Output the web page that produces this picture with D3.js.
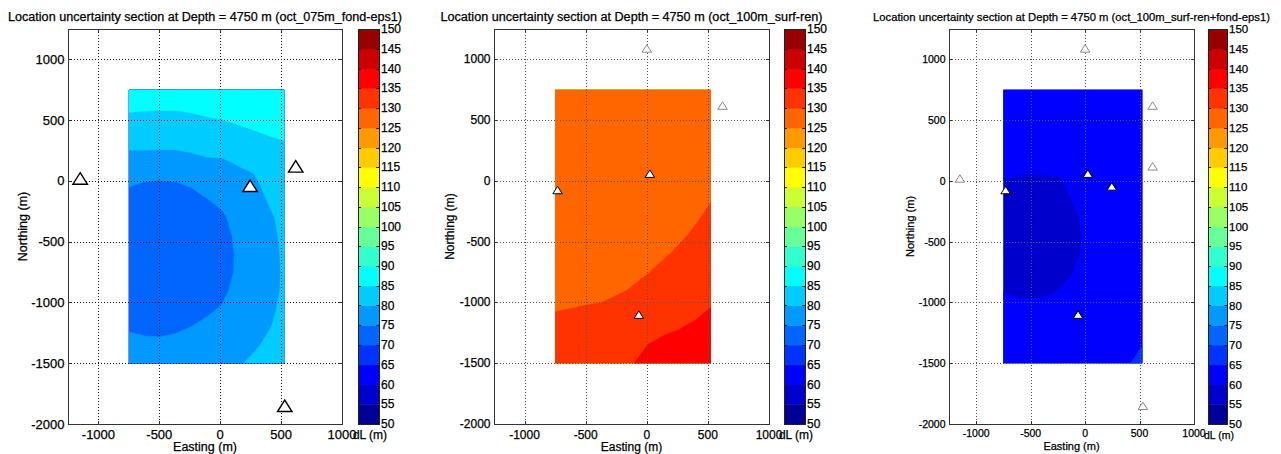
<!DOCTYPE html>
<html>
<head>
<meta charset="utf-8">
<script src="https://cdn.jsdelivr.net/npm/d3@7"></script>
<style>
  body { margin: 0; background: #fff; }
  svg { display: block; font-family: "Liberation Sans", Arial, sans-serif; }
  svg text { fill: #000; stroke: #000; stroke-width: 0.25px; }
</style>
</head>
<body>
<svg id="chart" width="1281" height="454"></svg>
<script>
// ---------------- data ----------------
const titles = [
  "Location uncertainty section at Depth = 4750 m (oct_075m_fond-eps1)",
  "Location uncertainty section at Depth = 4750 m (oct_100m_surf-ren)",
  "Location uncertainty section at Depth = 4750 m (oct_100m_surf-ren+fond-eps1)"
];
const xLabel = "Easting (m)";
const yLabel = "Northing (m)";
const cbLabel = "dL (m)";

const xDomain = [-1250, 1000];
const yDomain = [-2000, 1250];
const xTicks = [-1000, -500, 0, 500, 1000];
const yTicks = [-2000, -1500, -1000, -500, 0, 500, 1000];
const levels = d3.range(50, 151, 5);          // contour levels / colorbar ticks

// grid of the section: 11 columns (Easting -750 .. 525), 16 rows (Northing 750 .. -1500)
const gridEast = [-750, 525];
const gridNorth = [750, -1500];

// dL (m), rows from north to south, columns from west to east
const dlFondEps1 = [
  [87.5, 87.8, 88.0, 88.0, 88.0, 88.0, 88.2, 88.5, 88.8, 89.0, 89.3],
  [85.6, 85.4, 85.3, 85.3, 85.6, 86.2, 86.6, 87.0, 87.3, 87.6, 88.0],
  [83.2, 83.0, 83.1, 83.0, 83.3, 83.7, 84.1, 84.8, 85.5, 86.1, 86.6],
  [80.8, 80.7, 80.7, 80.7, 81.1, 81.5, 81.8, 82.3, 83.0, 84.0, 84.6],
  [78.3, 78.5, 78.3, 78.3, 78.7, 79.3, 79.4, 80.3, 80.8, 82.6, 83.2],
  [75.5, 75.1, 74.9, 75.1, 75.8, 77.0, 77.6, 78.6, 79.4, 81.3, 82.2],
  [74.0, 73.2, 72.8, 72.9, 73.6, 74.9, 75.8, 77.2, 78.3, 80.3, 81.5],
  [73.0, 72.2, 71.7, 71.7, 72.2, 73.3, 74.5, 76.3, 77.6, 79.4, 81.0],
  [72.3, 71.6, 71.1, 71.0, 71.4, 72.4, 73.6, 75.8, 77.2, 79.0, 80.7],
  [72.0, 71.3, 70.8, 70.7, 71.1, 72.0, 73.2, 75.5, 77.0, 78.8, 80.5],
  [72.0, 71.3, 70.8, 70.7, 71.2, 72.1, 73.3, 75.6, 77.0, 78.8, 80.4],
  [72.5, 71.8, 71.3, 71.3, 71.9, 72.9, 74.1, 76.2, 77.3, 79.0, 80.4],
  [73.3, 72.8, 72.5, 72.6, 73.3, 74.3, 75.3, 77.0, 77.8, 79.4, 80.6],
  [74.6, 74.2, 74.1, 74.4, 75.0, 75.8, 76.8, 78.0, 78.6, 79.8, 81.0],
  [76.0, 75.8, 75.7, 76.0, 76.5, 77.2, 78.0, 78.9, 79.5, 80.6, 81.8],
  [77.0, 77.0, 77.0, 77.2, 77.6, 78.2, 78.9, 79.6, 80.6, 81.8, 83.0]
];

const dlSurfRen = [
  [126.0, 126.0, 126.1, 126.1, 126.2, 126.3, 126.4, 126.6, 126.8, 127.0, 127.3],
  [126.2, 126.2, 126.3, 126.3, 126.4, 126.5, 126.6, 126.8, 127.0, 127.2, 127.6],
  [126.4, 126.4, 126.5, 126.5, 126.6, 126.7, 126.8, 127.0, 127.2, 127.5, 128.0],
  [126.6, 126.6, 126.7, 126.7, 126.8, 126.9, 127.0, 127.2, 127.5, 127.8, 128.5],
  [126.8, 126.8, 126.9, 126.9, 127.0, 127.2, 127.3, 127.5, 127.9, 128.2, 129.0],
  [127.0, 127.0, 127.1, 127.1, 127.3, 127.5, 127.6, 127.9, 128.3, 128.7, 129.4],
  [127.3, 127.3, 127.4, 127.4, 127.6, 127.8, 128.0, 128.3, 128.8, 129.2, 129.9],
  [127.6, 127.6, 127.7, 127.8, 128.0, 128.2, 128.4, 128.8, 129.3, 129.75, 130.5],
  [127.9, 128.0, 128.1, 128.2, 128.4, 128.7, 128.9, 129.3, 129.7, 130.35, 131.2],
  [128.3, 128.4, 128.5, 128.7, 128.8, 129.2, 129.4, 129.75, 130.4, 131.1, 132.0],
  [128.8, 128.9, 129.0, 129.2, 129.3, 129.6, 129.95, 130.7, 131.4, 131.9, 132.8],
  [129.3, 129.4, 129.6, 129.6, 129.75, 130.15, 130.9, 131.7, 132.3, 132.8, 133.8],
  [129.85, 130.0, 130.1, 130.2, 130.8, 131.3, 132.0, 132.9, 133.4, 134.0, 135.1],
  [130.7, 130.8, 131.0, 131.2, 131.9, 132.5, 133.4, 134.3, 134.8, 135.6, 136.3],
  [131.6, 131.7, 132.0, 132.3, 133.1, 133.7, 135.1, 135.8, 136.3, 136.9, 137.5],
  [132.5, 132.7, 133.0, 133.5, 134.3, 134.9, 136.4, 137.2, 137.8, 138.2, 138.7]
];

const dlSurfRenFondEps1 = [
  [62.5, 62.5, 62.5, 62.5, 62.5, 62.5, 62.6, 62.7, 62.8, 62.9, 63.0],
  [62.2, 62.2, 62.2, 62.2, 62.2, 62.2, 62.3, 62.4, 62.5, 62.7, 62.8],
  [61.8, 61.8, 61.8, 61.8, 61.8, 61.8, 61.9, 62.1, 62.3, 62.5, 62.6],
  [61.3, 61.3, 61.3, 61.3, 61.3, 61.4, 61.6, 61.8, 62.1, 62.3, 62.5],
  [60.7, 60.7, 60.7, 60.7, 60.7, 61.0, 61.3, 61.6, 61.9, 62.2, 62.4],
  [60.0, 59.7, 59.6, 59.7, 59.8, 60.5, 61.0, 61.4, 61.8, 62.1, 62.4],
  [59.4, 59.2, 59.0, 59.0, 59.2, 60.1, 60.7, 61.2, 61.7, 62.1, 62.4],
  [59.0, 58.7, 58.5, 58.5, 58.8, 59.6, 60.5, 61.1, 61.6, 62.1, 62.5],
  [58.8, 58.5, 58.3, 58.3, 58.6, 59.4, 60.4, 61.0, 61.6, 62.1, 62.6],
  [58.8, 58.5, 58.3, 58.3, 58.7, 59.5, 60.5, 61.1, 61.7, 62.2, 62.7],
  [59.1, 58.8, 58.6, 58.6, 59.1, 59.95, 60.8, 61.3, 61.9, 62.4, 62.9],
  [59.95, 59.6, 59.5, 59.6, 60.05, 60.6, 61.2, 61.6, 62.1, 62.7, 63.2],
  [60.8, 60.6, 60.6, 60.7, 60.9, 61.1, 61.6, 62.0, 62.5, 63.0, 63.6],
  [61.4, 61.3, 61.3, 61.3, 61.4, 61.5, 62.0, 62.4, 62.9, 63.5, 64.2],
  [61.9, 61.8, 61.8, 61.8, 61.9, 61.9, 62.4, 62.8, 63.4, 64.1, 64.95],
  [62.3, 62.2, 62.2, 62.2, 62.3, 62.3, 62.8, 63.2, 63.9, 64.8, 66.2]
];

// stations [Easting, Northing] (m)
const stationsFondEps1 = [[-1150, 20], [245, -40], [620, 120], [530, -1850]];
const stationsSurfRen = [[-730, -75], [25, 60], [-65, -1100]];
const stationsSurfRenOff = [[0, 1090], [620, 620]];
const stationsBoth = [[-730, -75], [25, 60], [245, -45], [-65, -1100]];
const stationsBothOff = [[-1150, 20], [620, 120], [530, -1850], [0, 1090], [620, 620]];

// 20-step jet palette, one colour per 5 m band from 50 to 150
const jet20 = [
  "#000099", "#0000cc", "#0000ff", "#0033ff", "#0066ff",
  "#0099ff", "#00ccff", "#00ffff", "#33ffcc", "#66ff99",
  "#99ff66", "#ccff33", "#ffff00", "#ffcc00", "#ff9900",
  "#ff6600", "#ff3300", "#ff0000", "#cc0000", "#990000"
];

// ---------------- layout ----------------
const plotTop = 29, plotBottom = 424;
const panels = [
  { grid: dlFondEps1, on: stationsFondEps1, off: [], big: true,
    left: 68, right: 342, cb: [358, 379], tick: 13, lab: 12.5, cbTick: 12, cbLab: 12,
    titleW: 394, xlabY: 438.5, axLabY: 451, northX: 23, gridColor: "#1a1a1a" },
  { grid: dlSurfRen, on: stationsSurfRen, off: stationsSurfRenOff, big: false,
    left: 494, right: 769, cb: [784, 805], tick: 12, lab: 12, cbTick: 12, cbLab: 12,
    titleW: 382, xlabY: 438.5, axLabY: 451, northX: 450, gridColor: "#555" },
  { grid: dlSurfRenFondEps1, on: stationsBoth, off: stationsBothOff, big: false,
    left: 949, right: 1194, cb: [1208, 1227], tick: 10.5, lab: 11, cbTick: 11.5, cbLab: 10.5,
    titleW: 397, xlabY: 436.5, axLabY: 450, northX: 910, gridColor: "#555" }
];

const svg = d3.select("#chart");
const nx = 11, ny = 16;
const bandColor = v => jet20[Math.max(0, Math.min(19, Math.round((v - 50) / 5)))];

function triangle(w, h) {
  return `M0,${-h / 2}L${w / 2},${h / 2}L${-w / 2},${h / 2}Z`;
}

panels.forEach((p, i) => {
  const g = svg.append("g");
  const x = d3.scaleLinear().domain(xDomain).range([p.left, p.right]);
  const y = d3.scaleLinear().domain(yDomain).range([plotBottom, plotTop]);

  // title
  g.append("text")
    .attr("x", (p.left + p.right) / 2).attr("y", 20.5)
    .attr("text-anchor", "middle")
    .attr("font-size", i === 2 ? 11 : 12)
    .attr("textLength", p.titleW).attr("lengthAdjust", "spacingAndGlyphs")
    .text(titles[i]);

  // filled contours of dL
  const values = p.grid.flat();
  const gx = d3.scaleLinear().domain([0.5, nx - 0.5]).range(gridEast);
  const gy = d3.scaleLinear().domain([0.5, ny - 0.5]).range(gridNorth);
  const proj = d3.geoTransform({
    point(cx, cy) { this.stream.point(x(gx(cx)), y(gy(cy))); }
  });
  const path = d3.geoPath(proj);
  const bands = d3.contours().size([nx, ny]).thresholds(levels.slice(0, -1))(values);

  const clipId = "clip" + i;
  g.append("clipPath").attr("id", clipId)
    .append("rect")
    .attr("x", x(gridEast[0])).attr("y", y(gridNorth[0]))
    .attr("width", x(gridEast[1]) - x(gridEast[0]))
    .attr("height", y(gridNorth[1]) - y(gridNorth[0]));

  g.append("g").attr("clip-path", `url(#${clipId})`)
    .selectAll("path").data(bands).join("path")
    .attr("d", d => path(d) || "")
    .attr("fill", d => bandColor(d.value))
    .attr("stroke", d => bandColor(d.value))
    .attr("stroke-width", 0.4);

  // dotted grid
  const grid = g.append("g").attr("stroke", p.gridColor).attr("stroke-width", 1)
    .attr("stroke-dasharray", "1,2").attr("fill", "none");
  xTicks.forEach(t => grid.append("line")
    .attr("x1", Math.round(x(t)) + 0.5).attr("x2", Math.round(x(t)) + 0.5)
    .attr("y1", plotTop).attr("y2", plotBottom));
  yTicks.forEach(t => grid.append("line")
    .attr("y1", Math.round(y(t)) + 0.5).attr("y2", Math.round(y(t)) + 0.5)
    .attr("x1", p.left).attr("x2", p.right));

  // frame and inward ticks
  g.append("rect")
    .attr("x", p.left + 0.5).attr("y", plotTop + 0.5)
    .attr("width", p.right - p.left).attr("height", plotBottom - plotTop)
    .attr("fill", "none").attr("stroke", "#333").attr("stroke-width", 1);
  const tk = g.append("g").attr("stroke", "#333").attr("stroke-width", 1);
  xTicks.forEach(t => {
    const xx = Math.round(x(t)) + 0.5;
    tk.append("line").attr("x1", xx).attr("x2", xx).attr("y1", plotBottom).attr("y2", plotBottom - 3);
    tk.append("line").attr("x1", xx).attr("x2", xx).attr("y1", plotTop).attr("y2", plotTop + 3);
  });
  yTicks.forEach(t => {
    const yy = Math.round(y(t)) + 0.5;
    tk.append("line").attr("x1", p.left).attr("x2", p.left + 3).attr("y1", yy).attr("y2", yy);
    tk.append("line").attr("x1", p.right).attr("x2", p.right - 3).attr("y1", yy).attr("y2", yy);
  });

  // tick labels
  g.append("g").selectAll("text").data(xTicks).join("text")
    .attr("x", d => x(d)).attr("y", p.xlabY)
    .attr("text-anchor", "middle").attr("font-size", p.tick)
    .text(d => d);
  g.append("g").selectAll("text").data(yTicks).join("text")
    .attr("x", p.left - 3.5).attr("y", d => y(d))
    .attr("text-anchor", "end").attr("dominant-baseline", "central")
    .attr("font-size", p.tick)
    .text(d => d);

  // axis labels
  g.append("text")
    .attr("x", (p.left + p.right) / 2).attr("y", p.axLabY)
    .attr("text-anchor", "middle").attr("font-size", p.lab)
    .text(xLabel);
  g.append("text")
    .attr("transform", `translate(${p.northX},${(plotTop + plotBottom) / 2}) rotate(-90)`)
    .attr("text-anchor", "middle").attr("dominant-baseline", "central")
    .attr("font-size", p.lab)
    .text(yLabel);

  // stations
  const st = g.append("g");
  st.selectAll("path.off").data(p.off).join("path").attr("class", "off")
    .attr("d", triangle(9.5, 7.5))
    .attr("transform", d => `translate(${x(d[0])},${y(d[1])})`)
    .attr("fill", "#fff").attr("stroke", "#8a8a8a").attr("stroke-width", 1);
  st.selectAll("path.on").data(p.on).join("path").attr("class", "on")
    .attr("d", p.big ? triangle(14.5, 11.5) : triangle(9.5, 7.5))
    .attr("transform", d => `translate(${x(d[0])},${y(d[1])})`)
    .attr("fill", "#fff").attr("stroke", "#000").attr("stroke-width", p.big ? 1.4 : 1);

  // colorbar
  const cy = d3.scaleLinear().domain([levels[0], levels[levels.length - 1]]).range([plotBottom, plotTop]);
  const cb = g.append("g");
  cb.selectAll("rect").data(levels.slice(0, -1)).join("rect")
    .attr("x", p.cb[0]).attr("width", p.cb[1] - p.cb[0])
    .attr("y", d => cy(d + 5)).attr("height", d => cy(d) - cy(d + 5) + 0.5)
    .attr("fill", d => bandColor(d));
  cb.append("rect")
    .attr("x", p.cb[0] + 0.5).attr("y", plotTop + 0.5)
    .attr("width", p.cb[1] - p.cb[0]).attr("height", plotBottom - plotTop)
    .attr("fill", "none").attr("stroke", "#222").attr("stroke-width", 1);
  const ctk = cb.append("g").attr("stroke", "#222").attr("stroke-width", 1);
  levels.forEach(v => {
    const yy = Math.round(cy(v)) + 0.5;
    ctk.append("line").attr("x1", p.cb[1]).attr("x2", p.cb[1] - 3).attr("y1", yy).attr("y2", yy);
    ctk.append("line").attr("x1", p.cb[0]).attr("x2", p.cb[0] + 3).attr("y1", yy).attr("y2", yy);
  });
  cb.append("g").selectAll("text").data(levels).join("text")
    .attr("x", p.cb[1] + 2).attr("y", d => cy(d))
    .attr("dominant-baseline", "central").attr("font-size", p.cbTick)
    .text(d => d);
  cb.append("text")
    .attr("x", (p.cb[0] + p.cb[1]) / 2 + 1.5).attr("y", 438.5)
    .attr("text-anchor", "middle").attr("font-size", p.cbLab)
    .text(cbLabel);
});
</script>
</body>
</html>
